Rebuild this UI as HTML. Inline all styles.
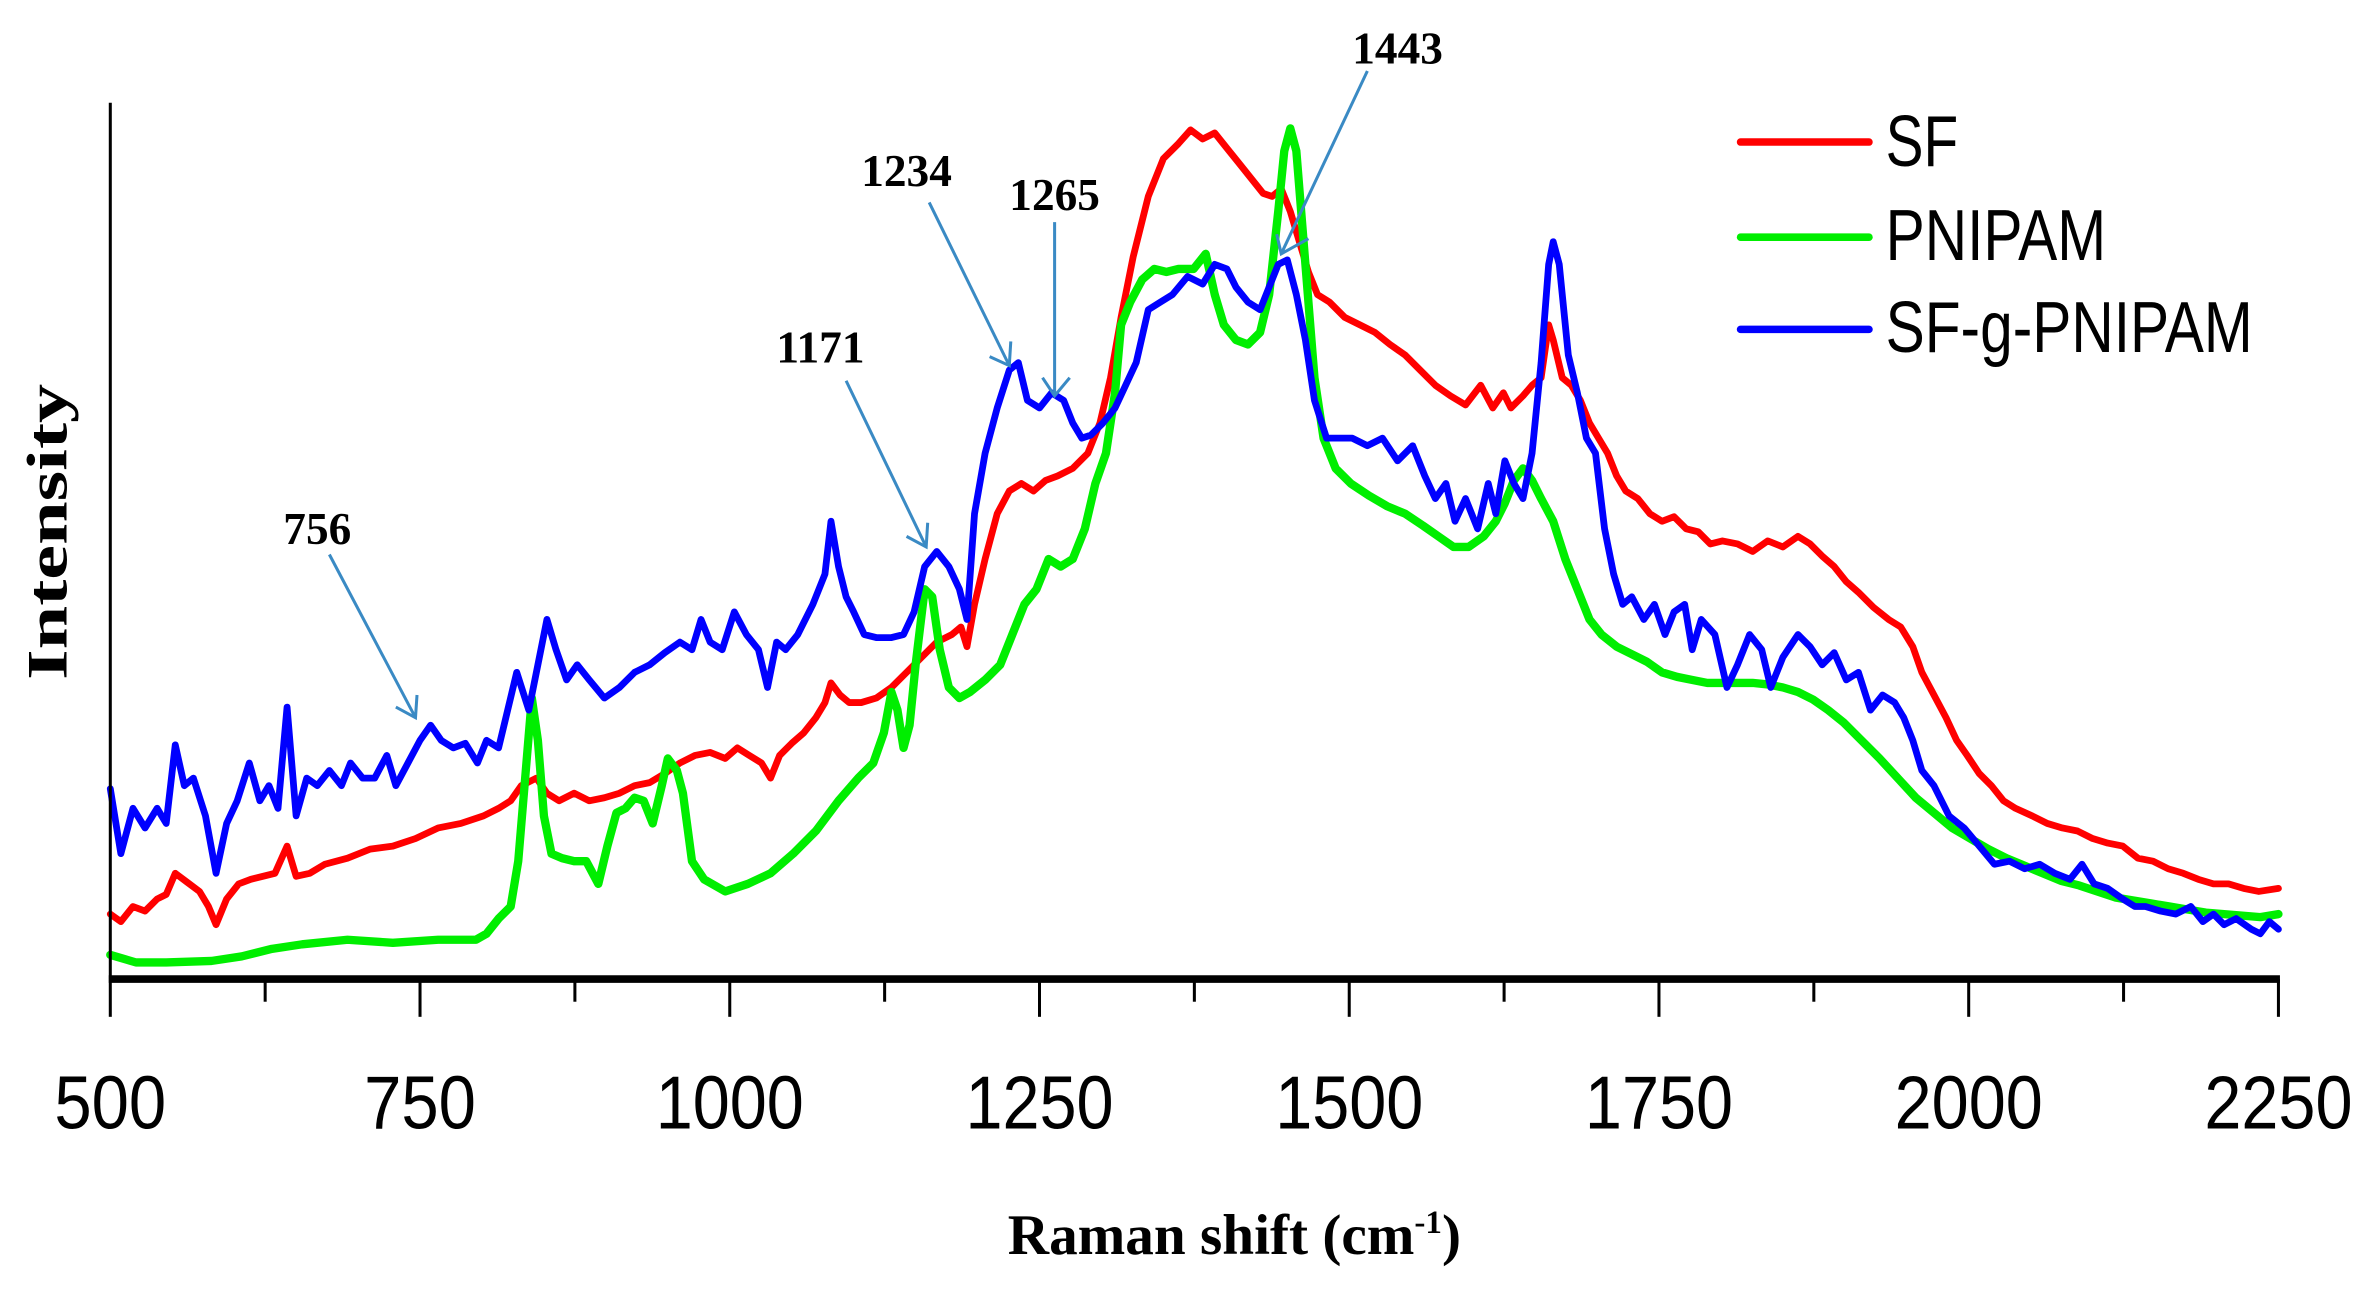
<!DOCTYPE html>
<html><head><meta charset="utf-8"><style>html,body{margin:0;padding:0;background:#fff}svg{display:block}</style></head>
<body>
<svg width="2357" height="1290" viewBox="0 0 1560 853.8" preserveAspectRatio="none" xmlns="http://www.w3.org/2000/svg">
<rect width="1560" height="854" fill="#fff"/>
<g fill="none" stroke-linejoin="round" stroke-linecap="round" stroke-width="4.5">
<polyline stroke="#ff0000" points="73,605 80,610 88,600 96,603 104,595 110,592 116,578 124,584 132,590 138,600 143,612 150,595 158,585 166,582 174,580 182,578 190,560 196,580 205,578 215,572 230,568 245,562 260,560 275,555 290,548 305,545 320,540 330,535 338,530 345,520 355,515 362,525 370,530 380,525 390,530 400,528 410,525 420,520 430,518 440,512 450,505 460,500 470,498 480,502 488,495 496,500 504,505 510,515 516,500 524,492 532,485 540,475 546,465 550,452 556,460 562,465 570,465 580,462 590,455 600,445 610,435 620,425 630,420 636,415 640,428 645,400 652,370 660,340 668,325 676,320 684,325 692,318 700,315 710,310 720,300 728,280 735,250 742,210 750,170 760,130 770,105 780,95 788,86 796,92 804,88 812,98 820,108 828,118 836,128 842,130 848,125 854,140 860,160 866,180 872,195 880,200 890,210 900,215 910,220 920,228 930,235 940,245 950,255 960,262 970,268 980,255 988,270 995,260 1000,270 1008,262 1014,255 1020,250 1025,215 1028,225 1034,250 1040,255 1046,265 1052,280 1058,290 1064,300 1070,315 1076,325 1084,330 1092,340 1100,345 1108,342 1116,350 1124,352 1132,360 1140,358 1150,360 1160,365 1170,358 1180,362 1190,355 1198,360 1206,368 1214,375 1222,385 1230,392 1240,402 1250,410 1258,415 1266,428 1272,445 1280,460 1288,475 1295,490 1302,500 1310,512 1318,520 1326,530 1334,535 1345,540 1355,545 1365,548 1375,550 1385,555 1395,558 1405,560 1415,568 1425,570 1435,575 1445,578 1455,582 1465,585 1475,585 1485,588 1495,590 1508,588"/>
<polyline stroke="#00ee00" stroke-width="5.5" points="73,632 90,637 110,637 140,636 160,633 180,628 200,625 230,622 260,624 290,622 315,622 322,618 330,608 338,600 343,570 348,510 352,462 356,490 360,540 365,565 372,568 380,570 388,570 396,585 402,560 408,538 414,535 420,528 426,530 432,545 438,520 442,502 448,510 452,525 458,570 466,582 480,590 495,585 510,578 525,565 540,550 555,530 568,515 578,505 585,485 590,458 594,470 598,495 602,480 606,440 612,390 617,395 622,430 628,455 635,462 642,458 652,450 662,440 670,420 678,400 686,390 694,370 702,375 710,370 718,350 725,320 732,300 738,260 742,215 748,200 756,185 764,178 772,180 780,178 790,178 798,168 804,195 810,215 818,225 826,228 834,220 840,195 846,140 850,100 854,85 858,100 862,150 866,200 870,250 876,290 884,310 894,320 906,328 918,335 930,340 942,348 952,355 962,362 972,362 982,355 990,345 996,333 1002,318 1008,310 1014,318 1020,330 1028,345 1036,370 1044,390 1052,410 1060,420 1070,428 1080,433 1090,438 1100,445 1110,448 1120,450 1130,452 1140,452 1150,452 1160,452 1170,453 1180,455 1190,458 1200,463 1210,470 1220,478 1232,490 1244,502 1256,515 1268,528 1280,538 1292,548 1304,555 1316,562 1328,568 1340,573 1352,578 1364,583 1376,586 1388,590 1400,594 1412,596 1424,598 1436,600 1448,602 1460,604 1472,605 1484,606 1496,607 1508,605"/>
<polyline stroke="#0000ff" points="73,522 80,565 88,535 96,548 104,535 110,545 116,493 122,520 128,515 136,540 143,578 150,545 157,530 165,505 172,530 178,520 184,535 190,468 196,540 203,515 210,520 218,510 226,520 232,505 240,515 248,515 256,500 262,520 270,505 278,490 285,480 292,490 300,495 308,492 316,505 322,490 330,495 336,470 342,445 350,470 356,440 362,410 368,430 375,450 382,440 390,450 400,462 410,455 420,445 430,440 440,432 450,425 458,430 464,410 470,425 478,430 486,405 494,420 502,430 508,455 514,425 520,430 528,420 538,400 546,380 550,345 555,375 560,395 565,405 572,420 580,422 590,422 598,420 605,405 612,375 620,365 628,375 635,390 640,410 645,340 652,300 660,270 668,245 674,240 680,265 688,270 696,260 704,265 710,280 716,290 722,288 730,280 738,270 745,255 752,240 760,205 768,200 776,195 786,183 796,188 804,175 812,178 818,190 826,200 834,205 840,190 846,175 852,172 858,195 864,225 870,265 878,290 885,290 895,290 905,295 915,290 925,305 935,295 943,315 950,330 957,320 963,345 970,330 978,350 985,320 990,340 996,305 1002,320 1008,330 1014,300 1020,240 1025,175 1028,160 1032,175 1038,235 1044,260 1050,290 1056,300 1062,350 1068,380 1074,400 1080,395 1088,410 1095,400 1102,420 1108,405 1115,400 1120,430 1126,410 1135,420 1143,455 1150,440 1158,420 1166,430 1172,455 1180,435 1190,420 1198,428 1206,440 1214,432 1222,450 1230,445 1238,470 1246,460 1254,465 1260,475 1266,490 1272,510 1280,520 1290,540 1300,548 1310,560 1320,572 1330,570 1340,575 1350,572 1360,578 1370,582 1378,572 1386,585 1395,588 1405,595 1413,600 1420,600 1430,603 1440,605 1450,600 1458,610 1465,605 1472,612 1480,608 1490,615 1496,618 1502,610 1508,615"/>
</g>
<line x1="73" y1="68" x2="73" y2="648" stroke="#000" stroke-width="2"/>
<line x1="72" y1="648" x2="1509" y2="648" stroke="#000" stroke-width="5"/>
<g stroke="#000" stroke-width="2">
<line x1="73" y1="648" x2="73" y2="673"/><line x1="278" y1="648" x2="278" y2="673"/><line x1="483" y1="648" x2="483" y2="673"/><line x1="688" y1="648" x2="688" y2="673"/><line x1="893" y1="648" x2="893" y2="673"/><line x1="1098" y1="648" x2="1098" y2="673"/><line x1="1303" y1="648" x2="1303" y2="673"/><line x1="1508" y1="648" x2="1508" y2="673"/>
<line x1="175.5" y1="648" x2="175.5" y2="663"/><line x1="380.5" y1="648" x2="380.5" y2="663"/><line x1="585.5" y1="648" x2="585.5" y2="663"/><line x1="790.5" y1="648" x2="790.5" y2="663"/><line x1="995.5" y1="648" x2="995.5" y2="663"/><line x1="1200.5" y1="648" x2="1200.5" y2="663"/><line x1="1405.5" y1="648" x2="1405.5" y2="663"/>
</g>
<g font-family="Liberation Sans, sans-serif" font-size="50" text-anchor="middle" fill="#000">
<text x="73" y="747" textLength="74" lengthAdjust="spacingAndGlyphs">500</text>
<text x="278" y="747" textLength="74" lengthAdjust="spacingAndGlyphs">750</text>
<text x="483" y="747" textLength="98" lengthAdjust="spacingAndGlyphs">1000</text>
<text x="688" y="747" textLength="98" lengthAdjust="spacingAndGlyphs">1250</text>
<text x="893" y="747" textLength="98" lengthAdjust="spacingAndGlyphs">1500</text>
<text x="1098" y="747" textLength="98" lengthAdjust="spacingAndGlyphs">1750</text>
<text x="1303" y="747" textLength="98" lengthAdjust="spacingAndGlyphs">2000</text>
<text x="1508" y="747" textLength="98" lengthAdjust="spacingAndGlyphs">2250</text>
</g>
<text x="817" y="830" font-family="Liberation Serif, serif" font-weight="bold" font-size="38" text-anchor="middle" textLength="300" lengthAdjust="spacingAndGlyphs">Raman shift (cm<tspan font-size="22" dy="-14">-1</tspan><tspan dy="14">)</tspan></text>
<text transform="translate(44,352) rotate(-90)" font-family="Liberation Serif, serif" font-weight="bold" font-size="38" text-anchor="middle" textLength="196" lengthAdjust="spacingAndGlyphs">Intensity</text>
<g stroke-width="5" stroke-linecap="round">
<line x1="1152" y1="94" x2="1237" y2="94" stroke="#ff0000"/>
<line x1="1152" y1="157" x2="1237" y2="157" stroke="#00ee00"/>
<line x1="1152" y1="218" x2="1237" y2="218" stroke="#0000ff"/>
</g>
<g font-family="Liberation Sans, sans-serif" font-size="48" fill="#000">
<text x="1248" y="110" textLength="48" lengthAdjust="spacingAndGlyphs">SF</text>
<text x="1248" y="172" textLength="146" lengthAdjust="spacingAndGlyphs">PNIPAM</text>
<text x="1248" y="233" textLength="243" lengthAdjust="spacingAndGlyphs">SF-g-PNIPAM</text>
</g>
<g font-family="Liberation Serif, serif" font-weight="bold" font-size="30" text-anchor="middle" fill="#000">
<text x="210" y="360">756</text>
<text x="543" y="240">1171</text>
<text x="600" y="123">1234</text>
<text x="698" y="139">1265</text>
<text x="925" y="42">1443</text>
</g>
<g stroke="#3a8ac4" stroke-width="2" fill="none">
<line x1="218" y1="367" x2="275" y2="475"/><polyline points="262,468 275,475 276,460"/>
<line x1="560" y1="252" x2="613" y2="362"/><polyline points="600,355 613,362 614,346"/>
<line x1="615" y1="134" x2="668" y2="242"/><polyline points="655,236 668,242 669,226"/>
<line x1="698" y1="147" x2="698" y2="262"/><polyline points="690,250 698,262 708,250"/>
<line x1="905" y1="47" x2="848" y2="168"/><polyline points="845,155 848,168 866,158"/>
</g>
</svg>
</body></html>
